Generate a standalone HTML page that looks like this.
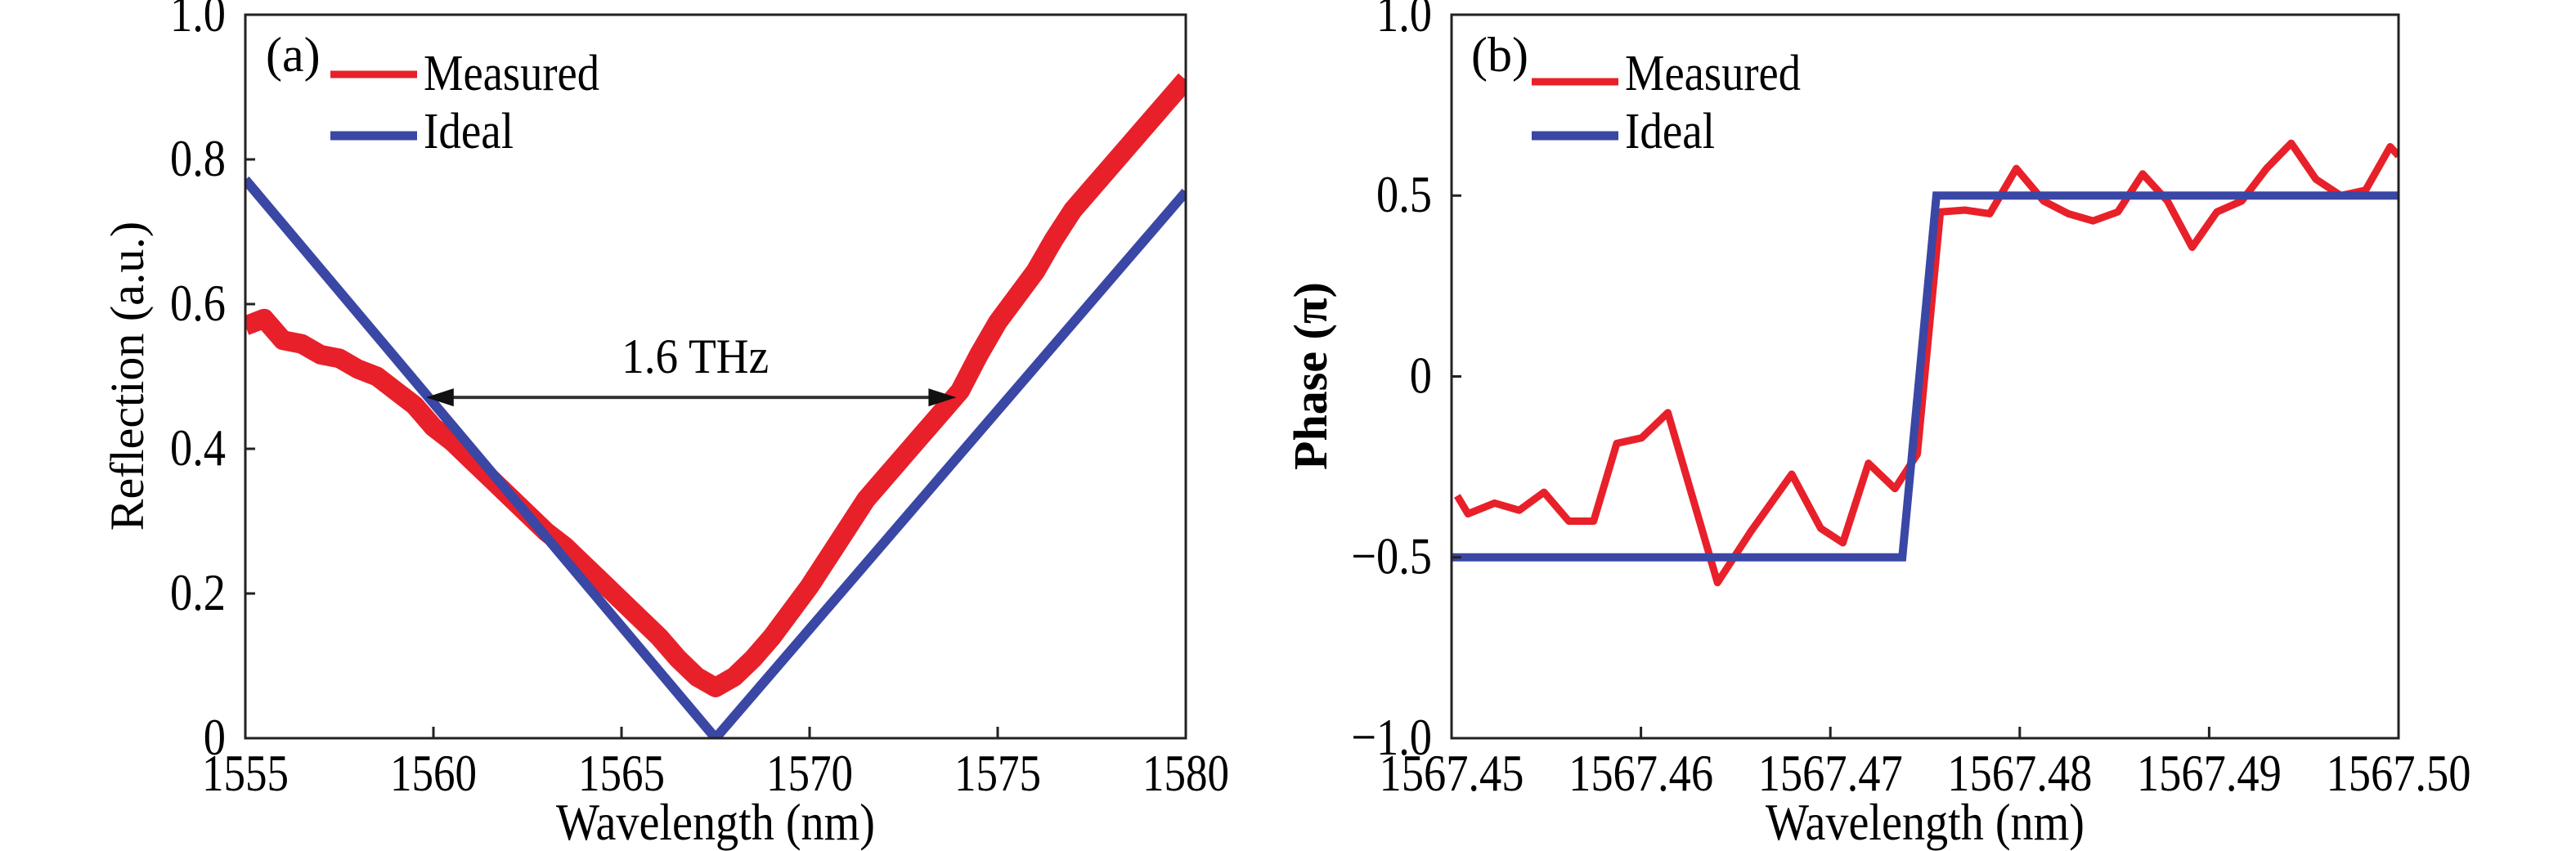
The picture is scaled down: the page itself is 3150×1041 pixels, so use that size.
<!DOCTYPE html>
<html><head><meta charset="utf-8">
<style>
html,body{margin:0;padding:0;background:#fff;}
svg, svg text{font-family:"Liberation Serif","Times New Roman",serif;}
</style></head>
<body>
<svg id="chart" width="3150" height="1041" viewBox="0 0 3150 1041" xmlns="http://www.w3.org/2000/svg" font-family="Liberation Serif, serif" style="display:block"></svg>
<script>
// ---- Panel (a) data ----
const aXTicks = [1555, 1560, 1565, 1570, 1575, 1580];
const aYTicks = [0, 0.2, 0.4, 0.6, 0.8, 1.0];
const aYTickLabels = ["0", "0.2", "0.4", "0.6", "0.8", "1.0"];
const aIdealX = [1555, 1567.5, 1580];
const aIdealY = [0.772, 0.0, 0.755];
const aMeasX = [1555,1555.5,1556,1556.5,1557,1557.5,1558,1558.5,1559,1559.5,1560,1560.5,1561,1561.5,1562,1562.5,1563,1563.5,1564,1564.5,1565,1565.5,1566,1566.5,1567,1567.5,1568,1568.5,1569,1569.5,1570,1570.5,1571,1571.5,1572,1572.5,1573,1573.5,1574,1574.5,1575,1575.5,1576,1576.5,1577,1577.5,1578,1578.5,1579,1579.5,1580];
const aMeasY = [0.57,0.58,0.55,0.545,0.53,0.525,0.51,0.50,0.48,0.46,0.43,0.41,0.385,0.36,0.335,0.31,0.285,0.265,0.24,0.215,0.19,0.165,0.14,0.11,0.085,0.07,0.085,0.11,0.14,0.175,0.21,0.25,0.29,0.33,0.36,0.39,0.42,0.45,0.48,0.53,0.575,0.61,0.645,0.69,0.73,0.76,0.79,0.82,0.85,0.88,0.91];
const aArrow = [1559.8, 1573.9, 0.471];
// ---- Panel (b) data ----
const bXTicks = [1567.45, 1567.46, 1567.47, 1567.48, 1567.49, 1567.50];
const bXTickLabels = ["1567.45","1567.46","1567.47","1567.48","1567.49","1567.50"];
const bYTicks = [-1, -0.5, 0, 0.5, 1];
const bYTickLabels = ["\u22121.0","\u22120.5","0","0.5","1.0"];
const bIdealX = [1567.45, 1567.4738, 1567.4756, 1567.50];
const bIdealY = [-0.5, -0.5, 0.5, 0.5];
const bMeasOffset = [0.0003,0.00087,0.00227,0.00357,0.00488,0.00619,0.0075,0.00872,0.01003,0.01142,0.01404,0.01578,0.01796,0.01949,0.02066,0.02201,0.02341,0.02459,0.02581,0.02711,0.02842,0.02982,0.03126,0.03256,0.03387,0.03518,0.03649,0.0378,0.0391,0.04041,0.04172,0.04303,0.04433,0.04564,0.04695,0.04826,0.04956,0.05];
const bMeasY = [-0.33,-0.38,-0.35,-0.37,-0.32,-0.40,-0.40,-0.185,-0.17,-0.10,-0.57,-0.43,-0.27,-0.42,-0.46,-0.24,-0.31,-0.215,0.455,0.46,0.45,0.575,0.485,0.45,0.43,0.455,0.56,0.485,0.357,0.455,0.485,0.575,0.645,0.545,0.5,0.515,0.635,0.61];

const NS = "http://www.w3.org/2000/svg";
const svg = document.getElementById('chart');
function mk(tag, attrs, parent, text){
  const e = document.createElementNS(NS, tag);
  for (const k in attrs) e.setAttribute(k, attrs[k]);
  if (tag === 'text') e.setAttribute('font-family', 'Liberation Serif, serif');
  if (text !== undefined) e.textContent = text;
  (parent || svg).appendChild(e);
  return e;
}
const RED = "#e8202a", BLUE = "#3a47a5";
const TOP = 18, BOT = 903;

function panel(opt){
  const g = mk('g', {});
  
  
  const sx = v => opt.x0 + (v - opt.xmin) / (opt.xmax - opt.xmin) * (opt.x1 - opt.x0);
  const sy = v => BOT - (v - opt.ymin) / (opt.ymax - opt.ymin) * (BOT - TOP);
  const clip = mk('clipPath', {id: opt.name + '-clip'}, g);
  mk('rect', {x: opt.x0, y: TOP, width: opt.x1 - opt.x0, height: BOT - TOP}, clip);
  const plot = mk('g', {'clip-path': 'url(#' + opt.name + '-clip)'}, g);
  
  
  opt.draw(plot, sx, sy);
  const frame = mk('rect', {x: opt.x0, y: TOP, width: opt.x1 - opt.x0, height: BOT - TOP, fill: 'none', stroke: '#222', 'stroke-width': 3}, g);
  
  
  opt.xt.forEach((v, i) => {
    const x = sx(v);
    const t = mk('line', {x1: x, x2: x, y1: BOT, y2: BOT - 14, stroke: '#222', 'stroke-width': 3}, g);
    
    
    const l = mk('text', {x: x, y: 967, 'font-size': 64, 'text-anchor': 'middle', textLength: opt.xlw, lengthAdjust: 'spacingAndGlyphs'}, g, opt.xl[i]);
    
    
  });
  opt.yt.forEach((v, i) => {
    const y = sy(v);
    const t = mk('line', {x1: opt.x0, x2: opt.x0 + 12, y1: y, y2: y, stroke: '#222', 'stroke-width': 3}, g);
    
    
    const l = mk('text', {x: opt.x0 - 24, y: y + 20, 'font-size': 64, 'text-anchor': 'end', transform: 'translate(' + (opt.x0 - 24) + ',0) scale(0.85,1) translate(' + (-(opt.x0 - 24)) + ',0)'}, g, opt.yl[i]);
    
    
  });
  const xt = mk('text', {x: (opt.x0 + opt.x1) / 2, y: 1027, 'font-size': 64, 'text-anchor': 'middle', textLength: 390, lengthAdjust: 'spacingAndGlyphs'}, g, 'Wavelength (nm)');
  
  
  const yt = mk('text', {x: 0, y: 0, 'font-size': 58, 'text-anchor': 'middle', 'font-weight': opt.ybold ? 'bold' : 'normal', transform: 'translate(' + opt.ytx + ',460) rotate(-90)'}, g, opt.ytitle);
  
  
  const lg = mk('g', {}, g);
  
  
  const p = mk('text', {x: opt.labx, y: 87, 'font-size': 60}, lg, opt.label);
  
  
  const r = mk('line', {x1: opt.lx, x2: opt.lx + 106, y1: opt.ly1, y2: opt.ly1, stroke: RED, 'stroke-width': 9}, lg);
  
  
  const rt = mk('text', {x: opt.lx + 114, y: 110, 'font-size': 62, textLength: 215, lengthAdjust: 'spacingAndGlyphs'}, lg, 'Measured');
  
  
  const b = mk('line', {x1: opt.lx, x2: opt.lx + 106, y1: 166, y2: 166, stroke: BLUE, 'stroke-width': 11}, lg);
  
  
  const bt = mk('text', {x: opt.lx + 114, y: 181, 'font-size': 62, textLength: 110, lengthAdjust: 'spacingAndGlyphs'}, lg, 'Ideal');
  
  
}
function pts(xs, ys, sx, sy){ return xs.map((x, i) => sx(x).toFixed(1) + ',' + sy(ys[i]).toFixed(1)).join(' '); }

panel({
  name: 'panel-a', x0: 300, x1: 1450, xmin: 1555, xmax: 1580, ymin: 0, ymax: 1,
  xt: aXTicks, xl: aXTicks.map(String), xlw: 106, yt: aYTicks, yl: aYTickLabels,
  ytitle: 'Reflection (a.u.)', ytx: 175, ybold: false, label: '(a)', labx: 325, lx: 404, ly1: 91,
  draw: (g, sx, sy) => {
    const m = mk('polyline', {points: pts(aMeasX, aMeasY, sx, sy), fill: 'none', stroke: RED, 'stroke-width': 24, 'stroke-linejoin': 'round'}, g);
    
    
    const id = mk('polyline', {points: pts(aIdealX, aIdealY, sx, sy), fill: 'none', stroke: BLUE, 'stroke-width': 12}, g);
    
    
    const x1 = sx(aArrow[0]), x2 = sx(aArrow[1]), y = sy(aArrow[2]);
    const ar = mk('g', {}, g);
    
    
    mk('line', {x1: x1 + 20, x2: x2 - 20, y1: y, y2: y, stroke: '#333', 'stroke-width': 4}, ar);
    mk('polygon', {points: `${x1},${y} ${x1+34},${y-11} ${x1+34},${y+11}`, fill: '#111'}, ar);
    mk('polygon', {points: `${x2},${y} ${x2-34},${y-11} ${x2-34},${y+11}`, fill: '#111'}, ar);
    const t = mk('text', {x: (x1 + x2) / 2 + 5, y: y - 30, 'font-size': 60, 'text-anchor': 'middle', textLength: 180, lengthAdjust: 'spacingAndGlyphs'}, ar, '1.6 THz');
    
    
  }
});

panel({
  name: 'panel-b', x0: 1775, x1: 2933, xmin: 1567.45, xmax: 1567.50, ymin: -1, ymax: 1,
  xt: bXTicks, xl: bXTickLabels, xlw: 177, yt: bYTicks, yl: bYTickLabels,
  ytitle: 'Phase (\u03c0)', ytx: 1622, ybold: true, label: '(b)', labx: 1799, lx: 1873, ly1: 100,
  draw: (g, sx, sy) => {
    const mx = bMeasOffset.map(o => 1567.45 + o);
    const m = mk('polyline', {points: pts(mx, bMeasY, sx, sy), fill: 'none', stroke: RED, 'stroke-width': 9, 'stroke-linejoin': 'round'}, g);
    
    
    const id = mk('polyline', {points: pts(bIdealX, bIdealY, sx, sy), fill: 'none', stroke: BLUE, 'stroke-width': 10}, g);
    
    
  }
});
</script>
</body></html>
